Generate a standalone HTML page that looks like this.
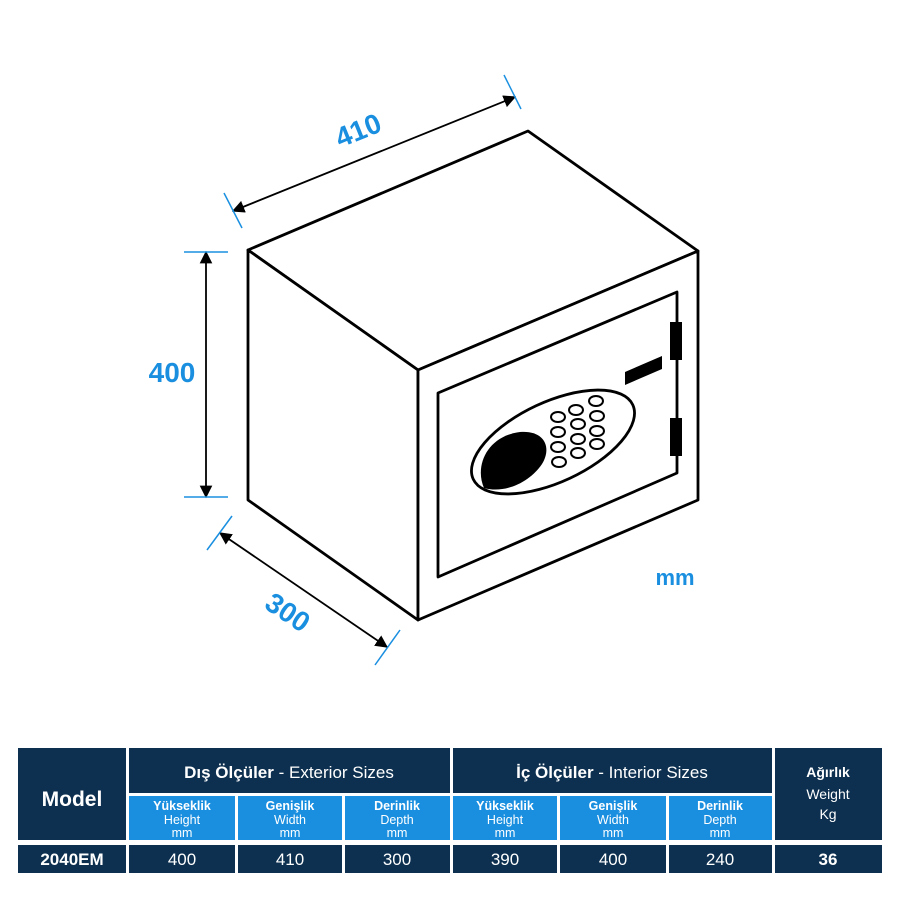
<!DOCTYPE html>
<html><head><meta charset="utf-8"><style>
body{margin:0;background:#fff;width:900px;height:900px;overflow:hidden;font-family:"Liberation Sans",sans-serif}
</style></head><body>
<svg width="900" height="900" viewBox="0 0 900 900" xmlns="http://www.w3.org/2000/svg" font-family="Liberation Sans, sans-serif">
<defs><marker id="a" viewBox="0 0 10 10" refX="9" refY="5" markerWidth="7" markerHeight="7" orient="auto-start-reverse"><path d="M0,0L10,5L0,10z" fill="#000"/></marker></defs>
<g fill="#fff" stroke="#000" stroke-width="2.8" stroke-linejoin="round">
<polygon points="248,250 528,131 698,251 418,370"/>
<polygon points="248,250 418,370 418,620 248,500"/>
<polygon points="418,370 698,251 698,500 418,620"/>
<polygon points="438,393 677,292 677,473 438,577"/>
<ellipse cx="553" cy="442" rx="88" ry="40" transform="rotate(-25 553 442)"/>
</g>
<path d="M484,488 C474,465 488,436 520,432 C545,430 552,448 542,464 C530,482 505,494 484,488z" fill="#000"/>
<g fill="#fff" stroke="#000" stroke-width="2">
<ellipse cx="558" cy="417" rx="7" ry="5"/><ellipse cx="576" cy="410" rx="7" ry="5"/><ellipse cx="596" cy="401" rx="7" ry="5"/>
<ellipse cx="558" cy="432" rx="7" ry="5"/><ellipse cx="578" cy="424" rx="7" ry="5"/><ellipse cx="597" cy="416" rx="7" ry="5"/>
<ellipse cx="558" cy="447" rx="7" ry="5"/><ellipse cx="578" cy="439" rx="7" ry="5"/><ellipse cx="597" cy="431" rx="7" ry="5"/>
<ellipse cx="559" cy="462" rx="7" ry="5"/><ellipse cx="578" cy="453" rx="7" ry="5"/><ellipse cx="597" cy="444" rx="7" ry="5"/>
</g>
<g fill="#000">
<polygon points="625,372 662,356 662,369 625,385"/>
<rect x="670" y="322" width="12" height="38"/>
<rect x="670" y="418" width="12" height="38"/>
</g>
<g stroke="#000" stroke-width="1.8" fill="none">
<line x1="233" y1="211" x2="515" y2="97" marker-start="url(#a)" marker-end="url(#a)"/>
<line x1="206" y1="252" x2="206" y2="497" marker-start="url(#a)" marker-end="url(#a)"/>
<line x1="220" y1="533" x2="387" y2="647" marker-start="url(#a)" marker-end="url(#a)"/>
</g>
<g stroke="#1a8fe0" stroke-width="1.5">
<line x1="224" y1="193" x2="242" y2="228"/><line x1="504" y1="75" x2="521" y2="109"/>
<line x1="184" y1="252" x2="228" y2="252"/><line x1="184" y1="497" x2="228" y2="497"/>
<line x1="232" y1="516" x2="207" y2="550"/><line x1="400" y1="630" x2="375" y2="665"/>
</g>
<g fill="#1a8fe0" font-weight="bold" font-size="28">
<text x="358" y="140" text-anchor="middle" transform="rotate(-22 358 130)">410</text>
<text x="172" y="382" text-anchor="middle">400</text>
<text x="288" y="622" text-anchor="middle" transform="rotate(34 288 612)">300</text>
<text x="675" y="585" text-anchor="middle" font-size="22">mm</text>
</g>
<g fill="#0d3050">
<rect x="18" y="748" width="108" height="92"/>
<rect x="129" y="748" width="321" height="45"/>
<rect x="453" y="748" width="319" height="45"/>
<rect x="775" y="748" width="107" height="92"/>
<rect x="18" y="845" width="108" height="28"/><rect x="129" y="845" width="106" height="28"/><rect x="238" y="845" width="104" height="28"/><rect x="345" y="845" width="105" height="28"/><rect x="453" y="845" width="104" height="28"/><rect x="560" y="845" width="106" height="28"/><rect x="669" y="845" width="103" height="28"/><rect x="775" y="845" width="107" height="28"/>
</g>
<g fill="#1a8fe0">
<rect x="129" y="796" width="106" height="44"/><rect x="238" y="796" width="104" height="44"/><rect x="345" y="796" width="105" height="44"/>
<rect x="453" y="796" width="104" height="44"/><rect x="560" y="796" width="106" height="44"/><rect x="669" y="796" width="103" height="44"/>
</g>
<g fill="#fff" text-anchor="middle">
<text x="72" y="806" font-size="21" font-weight="bold">Model</text>
<text x="289" y="778" font-size="17"><tspan font-weight="bold">Dış Ölçüler</tspan> - Exterior Sizes</text>
<text x="612" y="778" font-size="17"><tspan font-weight="bold">İç Ölçüler</tspan> - Interior Sizes</text>
<text x="828" y="777" font-size="14" font-weight="bold">Ağırlık</text>
<text x="828" y="799" font-size="14">Weight</text>
<text x="828" y="819" font-size="14">Kg</text>
<g font-size="12.5">
<text x="182" y="810" font-weight="bold">Yükseklik</text><text x="182" y="824">Height</text><text x="182" y="837">mm</text>
<text x="290" y="810" font-weight="bold">Genişlik</text><text x="290" y="824">Width</text><text x="290" y="837">mm</text>
<text x="397" y="810" font-weight="bold">Derinlik</text><text x="397" y="824">Depth</text><text x="397" y="837">mm</text>
<text x="505" y="810" font-weight="bold">Yükseklik</text><text x="505" y="824">Height</text><text x="505" y="837">mm</text>
<text x="613" y="810" font-weight="bold">Genişlik</text><text x="613" y="824">Width</text><text x="613" y="837">mm</text>
<text x="720" y="810" font-weight="bold">Derinlik</text><text x="720" y="824">Depth</text><text x="720" y="837">mm</text>
</g>
<g font-size="17">
<text x="72" y="865" font-weight="bold">2040EM</text>
<text x="182" y="865">400</text><text x="290" y="865">410</text><text x="397" y="865">300</text>
<text x="505" y="865">390</text><text x="613" y="865">400</text><text x="720" y="865">240</text>
<text x="828" y="865" font-weight="bold">36</text>
</g>
</g>
</svg>
</body></html>
